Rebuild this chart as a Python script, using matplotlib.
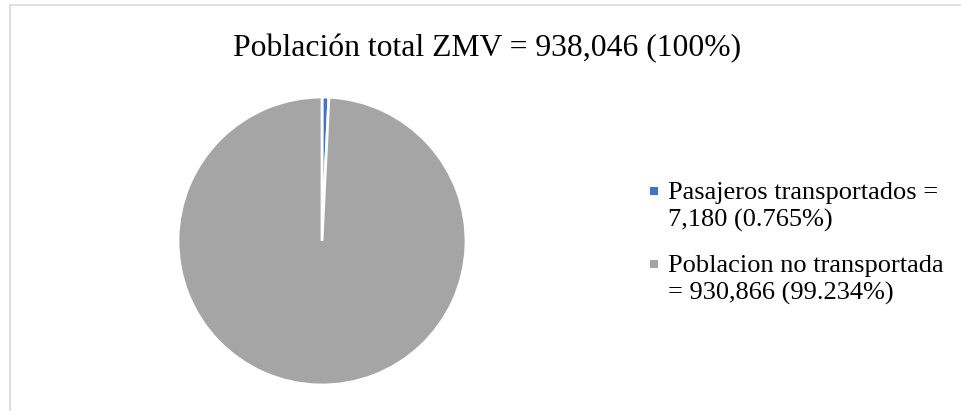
import matplotlib
matplotlib.use("Agg")
import matplotlib.pyplot as plt
from matplotlib.patches import Rectangle, Patch
from matplotlib.legend_handler import HandlerBase

TITLE = "Población total ZMV = 938,046 (100%)"
LABELS = ["Pasajeros transportados =\n7,180 (0.765%)",
          "Poblacion no transportada\n= 930,866 (99.234%)"]
VALUES = [7180, 930866]
COLORS = ["#4472C4", "#A5A5A5"]

plt.rcParams["font.family"] = ["Liberation Serif", "DejaVu Serif"]


class TopSquare(HandlerBase):
    # small square marker placed on the first line of a two-line label
    def __init__(self, size=5.8, shift=11.0):
        super().__init__()
        self.size = size
        self.shift = shift

    def create_artists(self, legend, orig_handle, xdescent, ydescent,
                       width, height, fontsize, trans):
        s = self.size
        cx = width / 2 - xdescent
        cy = height / 2 - ydescent + self.shift
        sq = Rectangle((cx - s / 2, cy - s / 2), s, s, transform=trans,
                       facecolor=orig_handle.get_facecolor(), edgecolor="none")
        return [sq]


fig = plt.figure(figsize=(9.61, 4.11), dpi=100)

# light frame of the chart area (only top/left visible in the crop)
fig.add_artist(Rectangle((10 / 961, -0.05), 1.1, (411 - 5) / 411 + 0.05,
                         transform=fig.transFigure, fill=False,
                         edgecolor="#D9D9D9", linewidth=1.2))

fig.text(487 / 961, 1 - 56 / 411, TITLE, ha="center", va="baseline", fontsize=22.8)

# pie: centre ~ (322, 241), radius ~ 144 px
r = 144
ax = fig.add_axes([(322 - r) / 961, (411 - 241 - r) / 411, 2 * r / 961, 2 * r / 411])
ax.pie(VALUES, colors=COLORS, startangle=90, counterclock=False,
       wedgeprops=dict(edgecolor="white", linewidth=2))
ax.set_aspect("auto")
ax.set_xlim(-1, 1)
ax.set_ylim(-1, 1)

handles = [Patch(facecolor=c) for c in COLORS]
leg = fig.legend(handles, LABELS, loc="upper left", bbox_to_anchor=(646 / 961, 1 - 182 / 411),
                 frameon=False, fontsize=19, handlelength=0.6, handletextpad=0.25,
                 labelspacing=0.88, borderaxespad=0, borderpad=0,
                 handler_map={Patch: TopSquare()})
for t in leg.get_texts():
    t.set_linespacing(1.28)

fig.savefig("out.png", dpi=100)
